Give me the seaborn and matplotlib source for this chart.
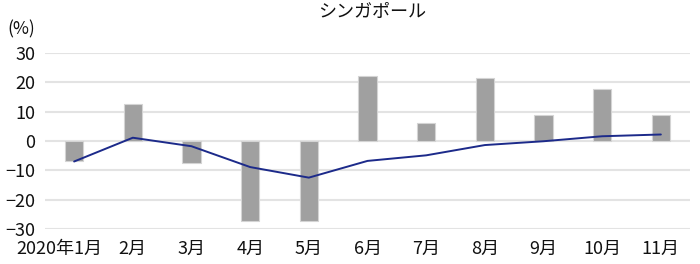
import matplotlib
matplotlib.use("Agg")
import matplotlib.pyplot as plt
import matplotlib.transforms as mtransforms
import seaborn as sns
import pandas as pd

months = ["2020年1月", "2月", "3月", "4月", "5月", "6月", "7月", "8月", "9月", "10月", "11月"]
bar_values = [-7.0, 12.7, -7.6, -27.3, -27.3, 22.1, 6.0, 21.4, 9.0, 17.7, 9.0]
line_values = [-7.0, 1.1, -1.8, -8.9, -12.5, -6.8, -4.9, -1.4, -0.1, 1.6, 2.2]
yticks = [-30, -20, -10, 0, 10, 20, 30]

sns.set_theme(style="white")
plt.rcParams['font.family'] = ['Noto Sans CJK JP', 'DejaVu Sans']
plt.rcParams['axes.unicode_minus'] = True

df = pd.DataFrame({"month": months, "bar": bar_values, "line": line_values})

fig = plt.figure(figsize=(7.0, 2.64), dpi=100)
ax = fig.add_axes([0.064, 0.1326, 0.922, 0.667])

sns.barplot(data=df, x="month", y="bar", color="#a0a0a0", saturation=1,
            width=0.31, edgecolor="#d4d4d4", linewidth=0.8, ax=ax, zorder=2)
ax.plot(range(len(months)), df["line"], color="#1c2a8a", linewidth=1.4, zorder=3)

ax.set_ylim(-30, 30)
ax.set_xlim(-0.5, len(months) - 0.5)
ax.set_yticks(yticks)
ax.set_yticklabels([f"{v}".replace("-", "\u2212") for v in yticks])
ax.yaxis.grid(True, color="#e3e3e3", linewidth=1.5, zorder=0)
ax.set_axisbelow(True)
for s in ax.spines.values():
    s.set_visible(False)
ax.tick_params(axis="both", length=0, labelsize=13, colors="#111111")
ax.tick_params(axis="y", pad=7)
ax.tick_params(axis="x", pad=8)
ax.set_xlabel("")
ax.set_ylabel("")

labels = ax.get_xticklabels()
offset = mtransforms.ScaledTranslation(-15 / 100, 0, fig.dpi_scale_trans)
labels[0].set_transform(labels[0].get_transform() + offset)

fig.text(0.531, 0.953, "シンガポール", ha="center", va="center", fontsize=13, color="#111111")
fig.text(0.01, 0.89, "(%)", ha="left", va="center", fontsize=12.5, color="#111111")

fig.savefig("out.png", dpi=100)
